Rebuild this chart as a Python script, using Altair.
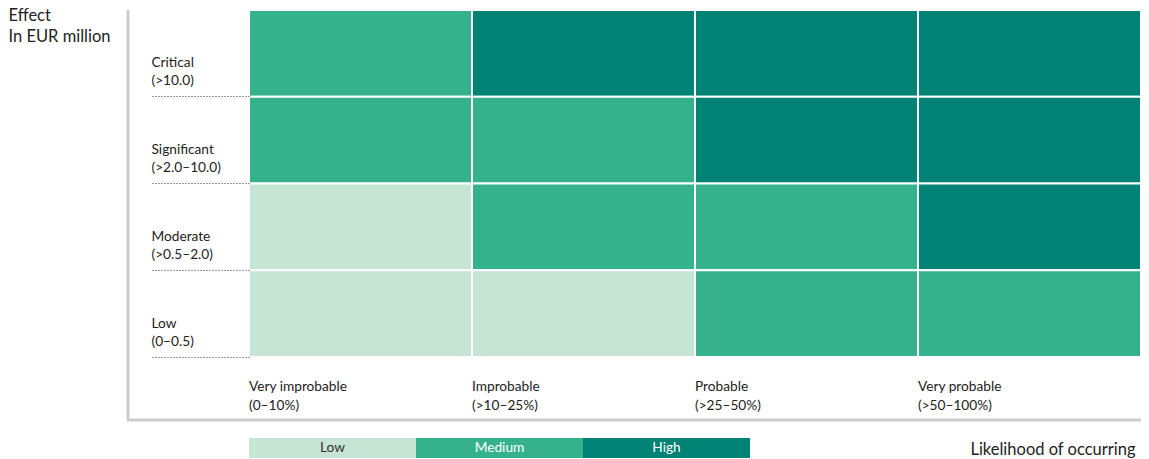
import altair as alt
import pandas as pd

# ---- data ----
likelihood = ["Very improbable|(0–10%)", "Improbable|(>10–25%)",
              "Probable|(>25–50%)", "Very probable|(>50–100%)"]
effects = ["Critical|(>10.0)", "Significant|(>2.0–10.0)",
           "Moderate|(>0.5–2.0)", "Low|(0–0.5)"]
risk_critical = ["Medium", "High", "High", "High"]
risk_significant = ["Medium", "Medium", "High", "High"]
risk_moderate = ["Low", "Medium", "Medium", "High"]
risk_low = ["Low", "Low", "Medium", "Medium"]
levels = ["Low", "Medium", "High"]
level_colors = ["#c7e5d5", "#35b28b", "#008374"]

rows = [risk_critical, risk_significant, risk_moderate, risk_low]
cells = pd.DataFrame(
    [{"effect": e, "likelihood": l, "level": r[j]}
     for e, r in zip(effects, rows) for j, l in enumerate(likelihood)]
)
legend_df = pd.DataFrame({"level": levels})
one = pd.DataFrame({"a": [0]})

FONT = "Lato"
TXT = "#222222"
W, H = 892, 347
LBL = 13.7
TTL = 16.5

color_scale = alt.Scale(domain=levels, range=level_colors)

heat = alt.Chart(cells).mark_rect(stroke="white", strokeWidth=2).encode(
    x=alt.X("likelihood:N", sort=likelihood,
            scale=alt.Scale(paddingInner=0, paddingOuter=0),
            axis=alt.Axis(
                orient="bottom", title="Likelihood of occurring",
                labelAngle=0, labelOffset=-111.5,
                labelAlign="left", labelBaseline="middle",
                ticks=False, tickSize=0, domain=False, grid=False,
                labelPadding=29, labelLineHeight=19,
                labelExpr="split(datum.label, '|')",
                labelFont=FONT, labelFontSize=LBL, labelColor=TXT,
                labelFlush=False, labelOverlap=False,
                titleX=886, titleY=92, titleAlign="right",
                titleBaseline="middle", titleFont=FONT, titleFontSize=TTL,
                titleFontWeight="normal", titleColor=TXT)),
    y=alt.Y("effect:N", sort=effects,
            scale=alt.Scale(paddingInner=0, paddingOuter=0),
            axis=alt.Axis(
                title=["Effect", "In EUR million"], titleAngle=0,
                titleAlign="left", titleBaseline="middle",
                titleX=-241, titleY=5, titleFont=FONT, titleFontSize=TTL,
                titleFontWeight="normal", titleColor=TXT, titleLineHeight=21,
                labelAlign="left", labelBaseline="middle", bandPosition=1,
                tickSize=98, labelPadding=0, labelOffset=10,
                tickDash=[1, 2], tickColor="#333333", tickWidth=1,
                domain=False, grid=False, labelLineHeight=18,
                labelExpr="split(datum.label, '|')",
                labelFont=FONT, labelFontSize=LBL, labelColor=TXT,
                labelFlush=False, labelOverlap=False)),
    color=alt.Color("level:N", scale=color_scale, legend=None),
)

frame_v = alt.Chart(one).mark_rule(color="#cccccc", strokeWidth=3).encode(
    x=alt.value(-121), y=alt.value(0), y2=alt.value(410))
frame_h = alt.Chart(one).mark_rule(color="#cccccc", strokeWidth=3).encode(
    x=alt.value(-122), x2=alt.value(W), y=alt.value(410))

leg_x = alt.X("level:N", sort=levels,
              scale=alt.Scale(domain=levels, range=[0, 501],
                              paddingInner=0, paddingOuter=0),
              axis=None)
leg_rect = alt.Chart(legend_df).mark_rect().encode(
    x=leg_x, y=alt.value(428), y2=alt.value(448),
    color=alt.Color("level:N", scale=color_scale, legend=None))
leg_text = alt.Chart(legend_df).mark_text(
    font=FONT, fontSize=LBL, baseline="middle", align="center").encode(
    x=leg_x, y=alt.value(438), text="level:N",
    color=alt.condition(alt.datum.level == "Low",
                        alt.value("#333333"), alt.value("white")))

chart = alt.layer(heat, frame_v, frame_h, leg_rect, leg_text).resolve_scale(
    x="independent", color="shared"
).properties(
    width=W, height=H,
    autosize=alt.AutoSizeParams(type="none"),
    padding={"left": 241, "top": 2, "right": 0, "bottom": 102},
).configure_view(stroke=None)

chart.save("out.html", embed_options={"renderer": "svg", "actions": False})
